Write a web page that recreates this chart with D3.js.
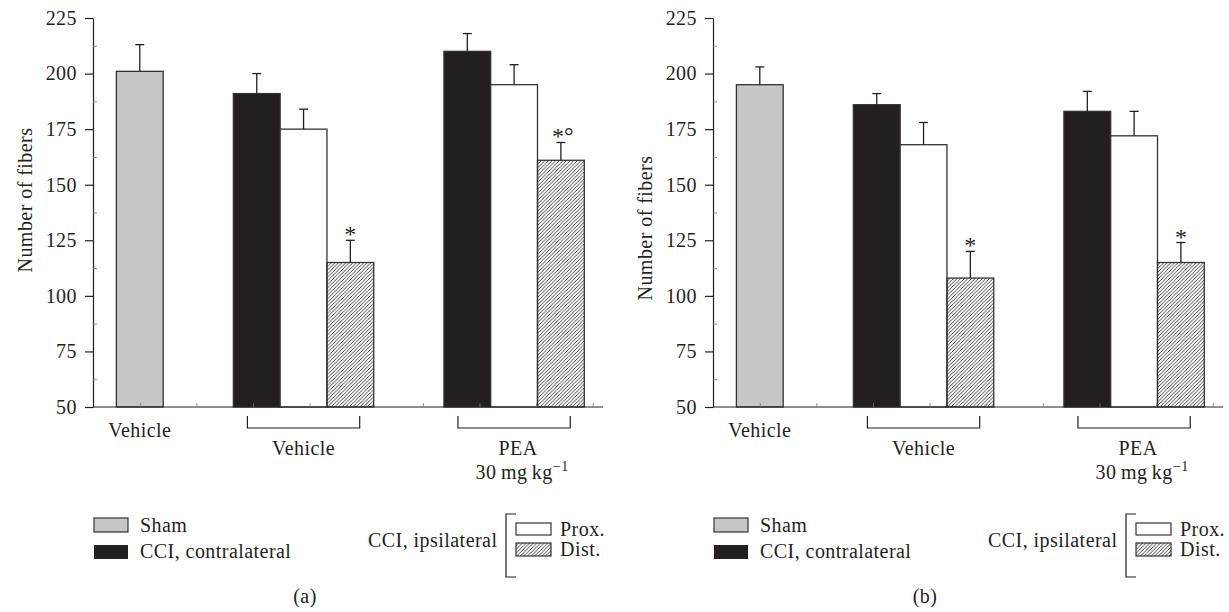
<!DOCTYPE html>
<html>
<head>
<meta charset="utf-8">
<script src="https://cdn.jsdelivr.net/npm/d3@7"></script>
<style>
  body { margin: 0; background: #fff; }
  text { font-family: "Liberation Serif", "Times New Roman", serif; fill: #231f20; letter-spacing: 0.45px; }
  .axis path, .axis line { stroke: #231f20; stroke-width: 1.2; }
  .minor line { stroke: #777; stroke-width: 0.8; }
</style>
</head>
<body>
<svg id="svg" width="1229" height="612"></svg>
<script>
// values
var panels = ["(a)", "(b)"];
var treatments = ["Vehicle", "PEA"];
var yTicks = [50, 75, 100, 125, 150, 175, 200, 225];
var yMinorTicks = [62.5, 87.5, 112.5, 137.5, 162.5, 187.5, 212.5];
var xMinorTicks = [1, 2.21, 3.42, 4.63, 5.84, 7.05, 8.26, 9.47, 10.68];

var shamMean = [201, 195];
var shamErr = [12, 8];

var contraMeanA = [191, 210], contraErrA = [9, 8];
var proxMeanA = [175, 195], proxErrA = [9, 9];
var distMeanA = [115, 161], distErrA = [10, 8];
var marksA = ["*", "*°"];

var contraMeanB = [186, 183], contraErrB = [5, 9];
var proxMeanB = [168, 172], proxErrB = [10, 11];
var distMeanB = [108, 115], distErrB = [12, 9];
var marksB = ["*", "*"];

var panelData = [
  { sham: shamMean[0], shamErr: shamErr[0], contra: contraMeanA, contraErr: contraErrA,
    prox: proxMeanA, proxErr: proxErrA, dist: distMeanA, distErr: distErrA, marks: marksA, labelY: 200 },
  { sham: shamMean[1], shamErr: shamErr[1], contra: contraMeanB, contraErr: contraErrB,
    prox: proxMeanB, proxErr: proxErrB, dist: distMeanB, distErr: distErrB, marks: marksB, labelY: 228 }
];

var svg = d3.select("#svg");
var fontSize = 20;
var ink = "#231f20";

// hatch for the distal bars
svg.append("defs")
  .append("pattern")
  .attr("id", "hatch")
  .attr("patternUnits", "userSpaceOnUse")
  .attr("width", 3.6)
  .attr("height", 3.6)
  .append("path")
  .attr("d", "M-0.9,0.9 l1.8,-1.8 M0,3.6 l3.6,-3.6 M2.7,4.5 l1.8,-1.8")
  .attr("stroke", ink)
  .attr("stroke-width", 0.85);

svg.append("rect").attr("width", 1229).attr("height", 612).attr("fill", "#fff");

var x = d3.scaleLinear().domain([0, 10.9]).range([93, 603]);
var y = d3.scaleLinear().domain([50, 225]).range([407, 18]);
var w = x(1) - x(0);
var groupStart = [3, 7.5];

var fills = { sham: "#c6c7c9", contra: ink, prox: "#fff", dist: "url(#hatch)" };

function drawBar(g, x0, value, err, fill) {
  g.append("rect")
    .attr("x", x(x0))
    .attr("y", y(value))
    .attr("width", w)
    .attr("height", y(50) - y(value))
    .attr("fill", fill)
    .attr("stroke", "#333")
    .attr("stroke-width", 1.3);
  var cx = x(x0 + 0.5);
  // error bar
  g.append("line")
    .attr("x1", cx).attr("x2", cx)
    .attr("y1", y(value)).attr("y2", y(value + err))
    .attr("stroke", ink).attr("stroke-width", 1.3);
  g.append("line")
    .attr("x1", cx - 4.5).attr("x2", cx + 4.5)
    .attr("y1", y(value + err)).attr("y2", y(value + err))
    .attr("stroke", ink).attr("stroke-width", 1.3);
}

function drawPanel(i) {
  var d = panelData[i];
  var g = svg.append("g").attr("transform", "translate(" + 620 * i + ",0)");

  // bars
  drawBar(g, 0.5, d.sham, d.shamErr, fills.sham);
  groupStart.forEach(function (s, j) {
    drawBar(g, s, d.contra[j], d.contraErr[j], fills.contra);
    drawBar(g, s + 1, d.prox[j], d.proxErr[j], fills.prox);
    drawBar(g, s + 2, d.dist[j], d.distErr[j], fills.dist);
    // significance marks
    g.append("text")
      .attr("x", x(s + 2.5) + (d.marks[j].length > 1 ? 2 : 0))
      .attr("y", y(d.dist[j] + d.distErr[j]) + 2)
      .attr("text-anchor", "middle")
      .style("font-size", "24px")
      .style("letter-spacing", "0px")
      .text(d.marks[j]);
  });

  // y axis
  g.append("g")
    .attr("class", "axis")
    .attr("transform", "translate(" + x(0) + ",0)")
    .call(d3.axisLeft(y).tickValues(yTicks).tickSize(8).tickSizeOuter(0).tickPadding(8))
    .call(function (a) {
      a.selectAll("text").style("font-size", fontSize + "px")
        .style("font-family", "Liberation Serif").attr("fill", ink);
    });
  g.append("g")
    .attr("class", "minor")
    .attr("transform", "translate(" + x(0) + ",0)")
    .call(d3.axisRight(y).tickValues(yMinorTicks).tickSize(4).tickFormat(""))
    .call(function (a) { a.select(".domain").remove(); });

  // x axis
  g.append("line")
    .attr("x1", x(0)).attr("x2", x(10.9))
    .attr("y1", y(50)).attr("y2", y(50))
    .attr("stroke", ink).attr("stroke-width", 1.2);
  g.append("g")
    .attr("class", "minor")
    .attr("transform", "translate(0," + y(50) + ")")
    .call(d3.axisTop(x).tickValues(xMinorTicks).tickSize(4).tickFormat(""))
    .call(function (a) { a.select(".domain").remove(); });

  // y label
  g.append("text")
    .attr("transform", "translate(32," + d.labelY + ") rotate(-90)")
    .attr("text-anchor", "middle")
    .style("font-size", fontSize + "px")
    .text("Number of fibers");

  // category labels
  g.append("text")
    .attr("x", x(1)).attr("y", 437)
    .attr("text-anchor", "middle")
    .style("font-size", fontSize + "px")
    .text("Vehicle");

  groupStart.forEach(function (s, j) {
    var l = x(s + 0.3), r = x(s + 2.7);
    g.append("path")
      .attr("d", "M" + l + ",416V428H" + r + "V416")
      .attr("fill", "none").attr("stroke", ink).attr("stroke-width", 1.2);
    g.append("text")
      .attr("x", (l + r) / 2 + (j ? 4 : 0)).attr("y", 455)
      .attr("text-anchor", "middle")
      .style("font-size", fontSize + "px")
      .text(treatments[j]);
  });
  var dose = g.append("text")
    .attr("x", (x(7.8) + x(10.2)) / 2 + 8).attr("y", 479)
    .attr("text-anchor", "middle")
    .style("font-size", fontSize + "px");
  dose.append("tspan").text("30\u2009mg\u2009kg");
  dose.append("tspan").attr("dy", -8).style("font-size", "14px").text("\u22121");

  // legend
  g.append("rect").attr("x", 94).attr("y", 518).attr("width", 34).attr("height", 14)
    .attr("fill", fills.sham).attr("stroke", "#333").attr("stroke-width", 1.2);
  g.append("rect").attr("x", 94).attr("y", 545).attr("width", 34).attr("height", 14)
    .attr("fill", fills.contra);
  g.append("text").attr("x", 140).attr("y", 532).style("font-size", fontSize + "px").text("Sham");
  g.append("text").attr("x", 140).attr("y", 558).style("font-size", fontSize + "px").text("CCI, contralateral");

  g.append("text").attr("x", 368).attr("y", 547).style("font-size", fontSize + "px").text("CCI, ipsilateral");
  g.append("path")
    .attr("d", "M516,514H506V577H516")
    .attr("fill", "none").attr("stroke", ink).attr("stroke-width", 1.2);
  g.append("rect").attr("x", 516).attr("y", 523).attr("width", 35).attr("height", 12)
    .attr("fill", fills.prox).attr("stroke", "#333").attr("stroke-width", 1.2);
  g.append("rect").attr("x", 516).attr("y", 543).attr("width", 35).attr("height", 13)
    .attr("fill", fills.dist).attr("stroke", "#333").attr("stroke-width", 1.2);
  g.append("text").attr("x", 560).attr("y", 536).style("font-size", fontSize + "px").text("Prox.");
  g.append("text").attr("x", 560).attr("y", 556).style("font-size", fontSize + "px").text("Dist.");

  // panel letter
  g.append("text")
    .attr("x", 305).attr("y", 603)
    .attr("text-anchor", "middle")
    .style("font-size", fontSize + "px")
    .text(panels[i]);
}

drawPanel(0);
drawPanel(1);
</script>
</body>
</html>
